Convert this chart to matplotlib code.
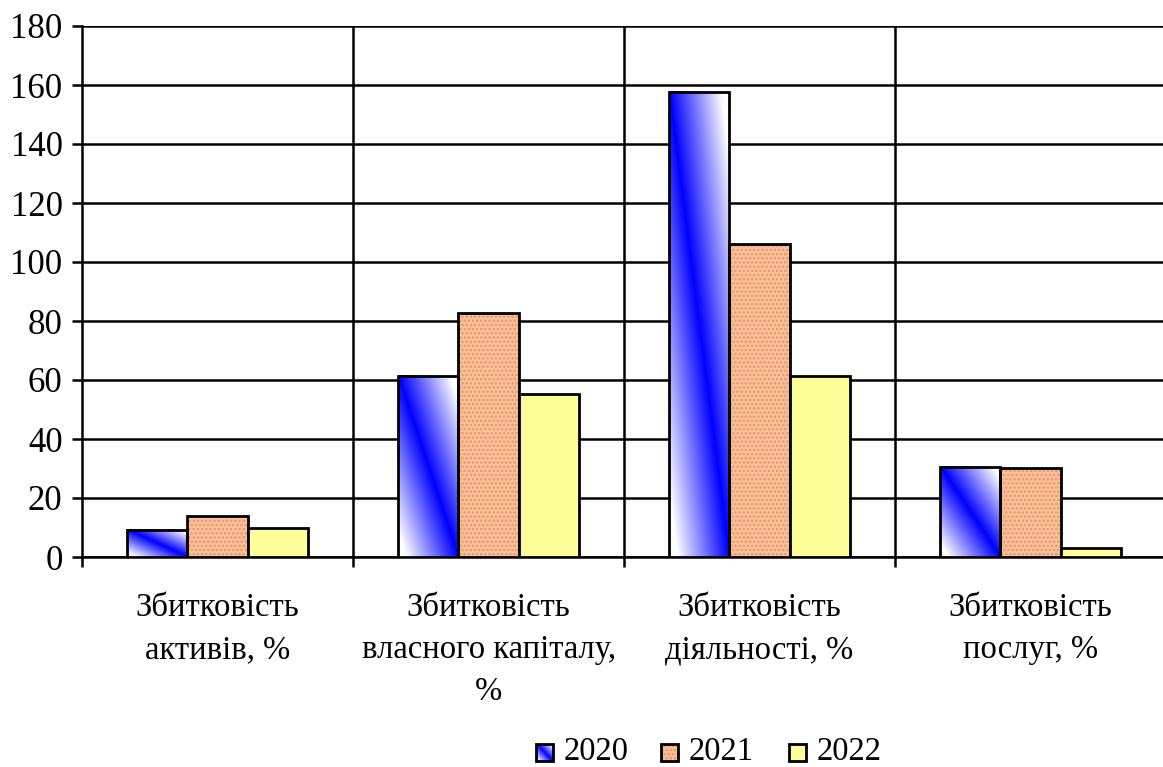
import matplotlib.pyplot as plt
from matplotlib.patches import Rectangle
import numpy as np

# дані
categories = ['Збитковість\nактивів, %', 'Збитковість\nвласного капіталу,\n%',
              'Збитковість\nдіяльності, %', 'Збитковість\nпослуг, %']
years = ['2020', '2021', '2022']
v2020 = [9.2, 61.4, 157.7, 30.6]
v2021 = [13.9, 82.7, 106.1, 30.2]
v2022 = [10.0, 55.4, 61.4, 2.9]
yticks = [0, 20, 40, 60, 80, 100, 120, 140, 160, 180]

plt.rcParams['font.family'] = ['Liberation Serif', 'DejaVu Serif']
plt.rcParams['hatch.linewidth'] = 1.2

W, H = 1163, 767
fig = plt.figure(figsize=(W / 100, H / 100), dpi=100)
ax = fig.add_axes([82 / W, 1 - 557 / H, 1084 / W, 531 / H])

orange = '#FAC09A'
orange_dots = '#E8956A'
yellow = '#FFFF99'


def gradient(nx=60, ny=200):
    # діагональний градієнт синій -> білий
    u = np.linspace(0, 1, nx)[None, :]
    v = np.linspace(0, 1, ny)[:, None]
    t = np.abs(u + v - 1)
    t = np.clip(t * 1.15, 0, 1)
    blue = np.array([0.0, 0.0, 1.0])
    white = np.array([1.0, 1.0, 1.0])
    return blue * (1 - t[..., None]) + white * t[..., None]


bw = 0.2225
x = np.arange(len(categories)) + 0.5

for i in range(len(categories)):
    # 2020 - градієнт
    x0 = x[i] - 1.5 * bw
    ax.imshow(gradient(), extent=[x0, x0 + bw, 0, v2020[i]], origin='lower',
              aspect='auto', zorder=3, interpolation='bilinear')
ax.bar(x - bw, v2020, bw, facecolor='none', edgecolor='black', linewidth=2, zorder=4)

# 2021 - крапки
ax.bar(x, v2021, bw, facecolor=orange, edgecolor=orange_dots, hatch='....', linewidth=0, zorder=3)
ax.bar(x, v2021, bw, facecolor='none', edgecolor='black', linewidth=2, zorder=4)

# 2022
ax.bar(x + bw, v2022, bw, facecolor=yellow, edgecolor='black', linewidth=2, zorder=4)

ax.set_xlim(0, 4)
ax.set_ylim(0, 180)
ax.set_yticks(yticks)
ax.set_yticklabels([str(t) for t in yticks], fontsize=25)
ax.yaxis.grid(True, color='black', linewidth=1.8, zorder=1)
ax.set_axisbelow(True)
for d in [1, 2, 3]:
    ax.axvline(d, color='black', linewidth=1.8, zorder=1)

ax.set_xticks([0, 1, 2, 3, 4])
ax.set_xticklabels([])
ax.tick_params(axis='both', direction='out', length=7, width=1.8, pad=7)
for sp in ['top', 'right']:
    ax.spines[sp].set_visible(False)
for sp in ['left', 'bottom']:
    ax.spines[sp].set_linewidth(1.8)

for i, c in enumerate(categories):
    ax.text(x[i], -12, c, ha='center', va='top', fontsize=23.5, linespacing=1.5)

# легенда
sw = 17
legend_items = [(536, 564), (661, 689), (789, 817)]
for k, (sx, tx) in enumerate(legend_items):
    la = fig.add_axes([sx / W, 1 - 761 / H, sw / W, sw / H])
    la.set_xlim(0, 1)
    la.set_ylim(0, 1)
    la.axis('off')
    if k == 0:
        la.imshow(gradient(40, 40), extent=[0, 1, 0, 1], origin='lower', aspect='auto')
    elif k == 1:
        la.add_patch(Rectangle((0, 0), 1, 1, facecolor=orange, edgecolor=orange_dots,
                               hatch='....', linewidth=0))
    else:
        la.add_patch(Rectangle((0, 0), 1, 1, facecolor=yellow, linewidth=0))
    la.add_patch(Rectangle((0, 0), 1, 1, facecolor='none', edgecolor='black', linewidth=2,
                           clip_on=False))
    fig.text(tx / W, 1 - 752 / H, years[k], fontsize=23.5, ha='left', va='center')

fig.savefig('out.png', dpi=100)
